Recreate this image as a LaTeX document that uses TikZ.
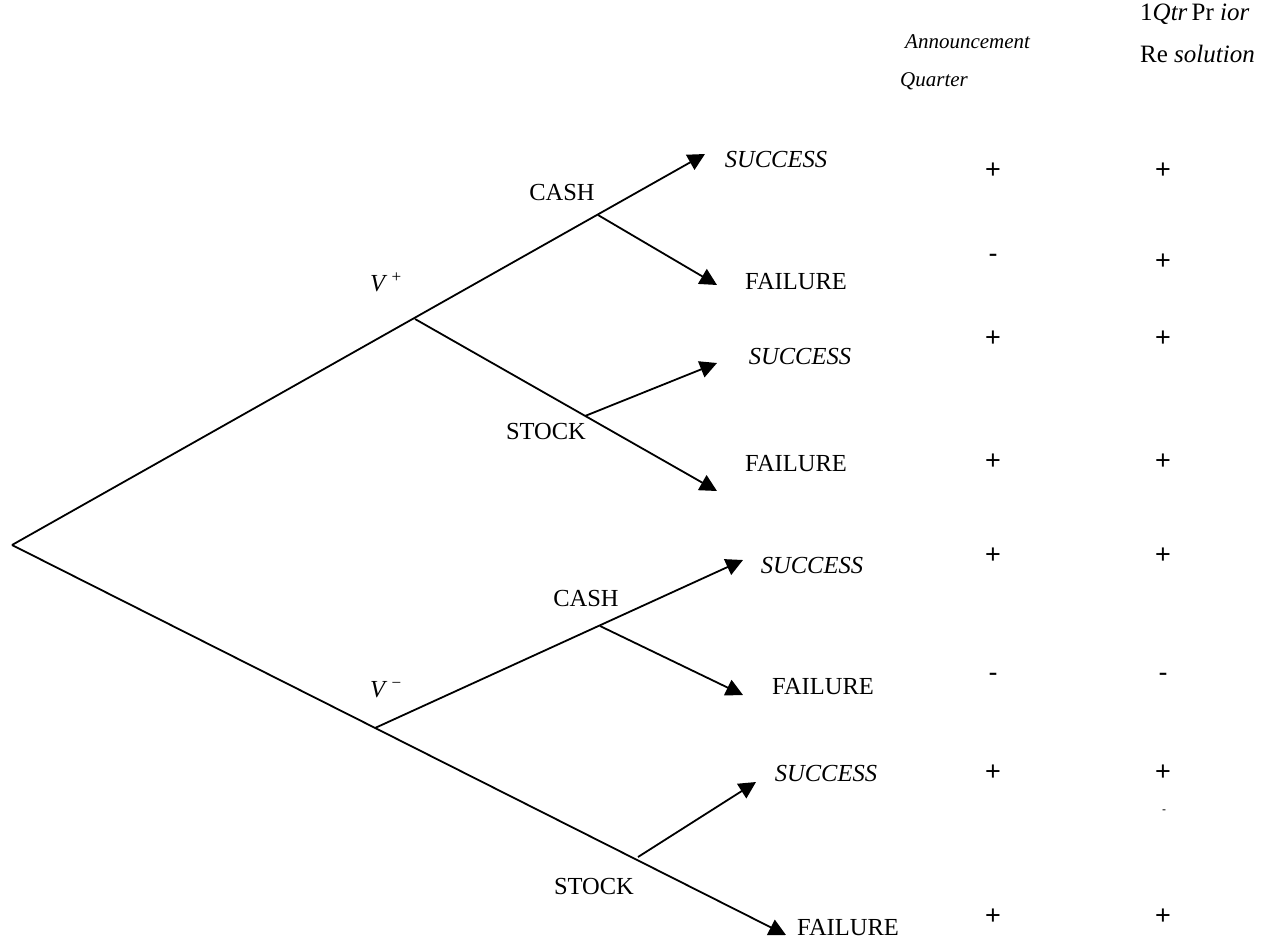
\documentclass[tikz,border=0pt]{standalone}
\usepackage{fontspec}
\setmainfont{Liberation Serif}
\newfontfamily\signfont{Liberation Sans}
\usetikzlibrary{arrows.meta}
\begin{document}
\begin{tikzpicture}[x=1pt,y=-1pt,
  lbl/.style={font=\fontsize{24.5}{27}\selectfont, inner sep=0pt},
  hdr/.style={font=\fontsize{21}{24}\selectfont, inner sep=0pt},
  hdrb/.style={font=\fontsize{25}{28}\selectfont, inner sep=0pt},
  sgn/.style={font=\signfont\fontsize{27}{29}\selectfont, inner sep=0pt},
  tinysgn/.style={font=\signfont\fontsize{12}{14}\selectfont, inner sep=0pt},
  arr/.style={line width=1.8pt, -{Triangle[length=17pt,width=17pt]}}
]
\useasboundingbox (0,0) rectangle (1275,943);

% branch points
\coordinate (root) at (12,545);
\coordinate (vp) at (415,319);
\coordinate (vm) at (375,728);
\coordinate (cashU) at (598,215);
\coordinate (stockU) at (585,416);
\coordinate (cashL) at (600,626);
\coordinate (stockL) at (638,857);
% arrow tips
\coordinate (t1) at (705,154);
\coordinate (t2) at (717,285);
\coordinate (t3) at (717,363);
\coordinate (t4) at (717,491);
\coordinate (t5) at (743,560);
\coordinate (t6) at (743,695);
\coordinate (t7) at (756,782);
\coordinate (t8) at (786,935);

\draw[arr] (root) -- (t1);
\draw[arr] (cashU) -- (t2);
\draw[arr] (vp) -- (t4);
\draw[arr] (stockU) -- (t3);
\draw[arr] (root) -- (t8);
\draw[arr] (vm) -- (t5);
\draw[arr] (cashL) -- (t6);
\draw[arr] (stockL) -- (t7);

% labels
\node[lbl] (s1) at (776,160) {\textit{SUCCESS}};
\node[lbl] (c1) at (562,193) {CASH};
\node[lbl] (vplus) at (386,282) {\textit{V}\,\textsuperscript{+}};
\node[lbl] (f1) at (796,282) {FAILURE};
\node[lbl] (s2) at (800,357) {\textit{SUCCESS}};
\node[lbl] (st1) at (546,432) {STOCK};
\node[lbl] (f2) at (796,464) {FAILURE};
\node[lbl] (s3) at (812,565) {\textit{SUCCESS}};
\node[lbl] (c2) at (586,598) {CASH};
\node[lbl] (vminus) at (386,690) {\textit{V}\,\textsuperscript{−}};
\node[lbl] (f3) at (823,687) {FAILURE};
\node[lbl] (s4) at (826,773) {\textit{SUCCESS}};
\node[lbl] (st2) at (594,886) {STOCK};
\node[lbl] (f4) at (848,928) {FAILURE};

% headers
\node[hdr, anchor=west] (h1) at (905,42) {\textit{Announcement}};
\node[hdr, anchor=west] (h2) at (900,81) {\textit{Quarter}};
\node[hdrb, anchor=west] (h3) at (1140,14) {1\textit{Qtr}\,Pr \textit{ior}};
\node[hdrb, anchor=west] (h4) at (1140,54) {Re \textit{solution}};

% signs
\node[sgn] (a1) at (993,171) {+};
\node[sgn] (b1) at (1163,171) {+};
\node[sgn] (a2) at (993,258) {-};
\node[sgn] (b2) at (1163,262) {+};
\node[sgn] (a3) at (993,339) {+};
\node[sgn] (b3) at (1163,339) {+};
\node[sgn] (a4) at (993,462) {+};
\node[sgn] (b4) at (1163,462) {+};
\node[sgn] (a5) at (993,556) {+};
\node[sgn] (b5) at (1163,556) {+};
\node[sgn] (a6) at (993,677) {-};
\node[sgn] (b6) at (1163,677) {-};
\node[sgn] (a7) at (993,773) {+};
\node[sgn] (b7) at (1163,773) {+};
\node[tinysgn] (b7x) at (1164,812) {-};
\node[sgn] (a8) at (993,917) {+};
\node[sgn] (b8) at (1163,917) {+};
\end{tikzpicture}
\end{document}
